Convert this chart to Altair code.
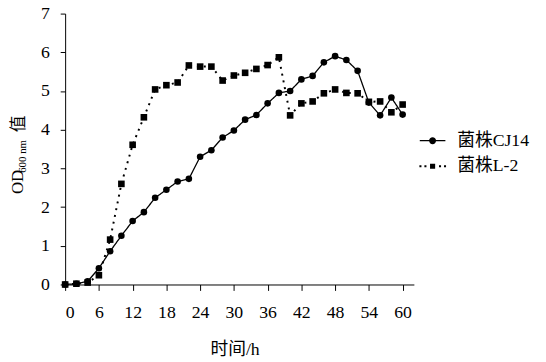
import altair as alt
import pandas as pd

hours = [0, 2, 4, 6, 8, 10, 12, 14, 16, 18, 20, 22, 24, 26, 28, 30,
         32, 34, 36, 38, 40, 42, 44, 46, 48, 50, 52, 54, 56, 58, 60]
cj14 = [0.0, 0.02, 0.08, 0.42, 0.86, 1.26, 1.64, 1.87, 2.24, 2.45, 2.66, 2.73,
        3.30, 3.47, 3.80, 3.98, 4.26, 4.38, 4.68, 4.95, 5.00, 5.30, 5.39, 5.74,
        5.90, 5.80, 5.52, 4.70, 4.37, 4.83, 4.39]
l2 = [0.0, 0.02, 0.05, 0.24, 1.16, 2.60, 3.61, 4.32, 5.04, 5.15, 5.22, 5.66,
      5.63, 5.63, 5.27, 5.40, 5.47, 5.57, 5.67, 5.87, 4.37, 4.68, 4.73, 4.94,
      5.04, 4.95, 4.94, 4.72, 4.73, 4.45, 4.65]
series_names = ["菌株CJ14", "菌株L-2"]
x_ticks = [0, 6, 12, 18, 24, 30, 36, 42, 48, 54, 60]
y_ticks = [0, 1, 2, 3, 4, 5, 6, 7]
x_title = "时间/h"
y_title_main = "OD"
y_title_sub = "600 nm"
y_title_end = "值"

FONT = "Liberation Serif, Noto Sans CJK SC"

df = pd.DataFrame({
    "t": hours * 2,
    "od": cj14 + l2,
    "s": [series_names[0]] * len(hours) + [series_names[1]] * len(hours),
})

xs = alt.Scale(domain=[0, 62], nice=False, zero=False)
ys = alt.Scale(domain=[0, 7], nice=False)

xax = alt.Axis(values=x_ticks, title=x_title, grid=False, labelFontSize=18,
               titleFontSize=18, titleFontWeight="normal", labelPadding=13,
               tickSize=6, titlePadding=20, titleX=172, titleAlign="center",
               domainColor="black", tickColor="black", labelColor="black",
               titleColor="black", labelFont=FONT, titleFont=FONT, labelOverlap=False)
yax = alt.Axis(values=y_ticks, title=None, grid=False, labelFontSize=18,
               labelPadding=11, tickSize=5, domainColor="black", tickColor="black",
               labelColor="black", labelFont=FONT, labelOverlap=False)

base = alt.Chart(df).encode(
    x=alt.X("t:Q", scale=xs, axis=xax),
    y=alt.Y("od:Q", scale=ys, axis=yax),
)

dash = alt.Scale(domain=series_names, range=[[1, 0], [2, 5]])
lines = base.mark_line(color="black", strokeCap="butt").encode(
    strokeDash=alt.StrokeDash("s:N", scale=dash, legend=None),
    strokeWidth=alt.StrokeWidth("s:N", scale=alt.Scale(domain=series_names, range=[1.3, 2.0]), legend=None),
)

circles = base.transform_filter(alt.datum.s == series_names[0]).mark_point(
    shape="circle", filled=True, color="black", size=45, opacity=1)
squares = base.transform_filter(alt.datum.s == series_names[1]).mark_point(
    shape="square", filled=True, color="black", size=45, opacity=1)

legend_paths = [
    "M-1,-0.045H1V0.045H-1Z M0.27,0A0.27,0.27 0 1 1 -0.27,0A0.27,0.27 0 1 1 0.27,0Z",
    "M-1.03,-0.08H-0.87V0.08H-1.03Z M-0.64,-0.08H-0.48V0.08H-0.64Z "
    "M-0.2,-0.2H0.2V0.2H-0.2Z M0.5,-0.08H0.66V0.08H0.5Z M0.89,-0.08H1.05V0.08H0.89Z",
]
legend_layer = base.mark_point(filled=True, opacity=0, size=676, color="black").encode(
    shape=alt.Shape("s:N", scale=alt.Scale(domain=series_names, range=legend_paths),
                    legend=alt.Legend(title=None, orient="none", legendX=360, legendY=116,
                                      labelFontSize=18, labelFont=FONT, labelColor="black",
                                      symbolFillColor="black", symbolStrokeWidth=0,
                                      symbolOpacity=1, symbolSize=676, labelOffset=12,
                                      rowPadding=4, padding=0)),
)

tdf = pd.DataFrame({"a": [y_title_main], "b": [y_title_sub], "c": [y_title_end]})
t1 = alt.Chart(tdf).mark_text(angle=270, align="center", baseline="alphabetic",
                              fontSize=17, font=FONT, color="black").encode(
    text="a:N", x=alt.value(-43), y=alt.value(171))
t2 = alt.Chart(tdf).mark_text(angle=270, align="center", baseline="alphabetic",
                              fontSize=11, font=FONT, color="black").encode(
    text="b:N", x=alt.value(-40), y=alt.value(145))
t3 = alt.Chart(tdf).mark_text(angle=270, align="center", baseline="alphabetic",
                              fontSize=17, font=FONT, color="black").encode(
    text="c:N", x=alt.value(-42), y=alt.value(112))

chart = alt.layer(lines, circles, squares, legend_layer, t1, t2, t3).resolve_scale(
    shape="independent", strokeDash="independent"
).properties(
    width=354, height=275,
    autosize=alt.AutoSizeParams(type="none"),
    padding={"left": 58, "top": 3, "right": 126, "bottom": 76},
).configure(font=FONT).configure_view(stroke=None)

chart.save("out.html", embed_options={"renderer": "svg", "actions": False})
